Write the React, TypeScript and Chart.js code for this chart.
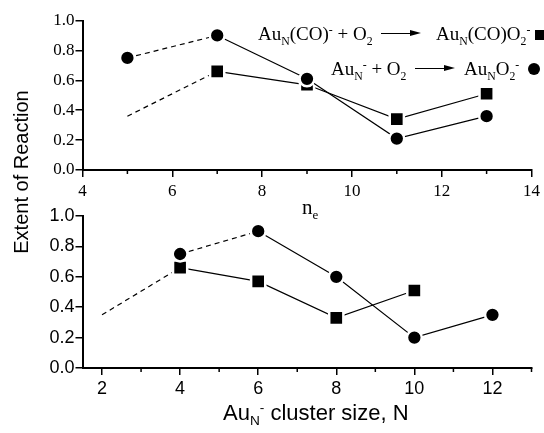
import React, { useEffect, useRef } from "react";
import { Chart, registerables } from "chart.js";

Chart.register(...registerables);

// ---- data (top panel: number of electrons n_e) ----
const topElectrons = [5, 7, 9, 11, 13];
const topAuN = [0.75, 0.90, 0.61, 0.21, 0.36];
const topAuNCO = [0.36, 0.66, 0.57, 0.34, 0.51];

// ---- data (bottom panel: cluster size N) ----
const sizesAuN = [4, 6, 8, 10, 12];
const bottomAuN = [0.75, 0.90, 0.60, 0.20, 0.35];
const sizesAuNCO = [2, 4, 6, 8, 10];
const bottomAuNCO = [0.35, 0.66, 0.57, 0.33, 0.51];

const yTicks = [0, 0.2, 0.4, 0.6, 0.8, 1.0];

const SERIF = "'Liberation Serif', 'Times New Roman', serif";
const SANS = "'Liberation Sans', Arial, sans-serif";

const toPoints = (xs: number[], ys: number[]) => xs.map((x, i) => ({ x, y: ys[i] }));

const minorTicks = {
  id: "minorTicks",
  afterDraw(chart: any) {
    const s = chart.scales.x;
    const ctx = chart.ctx;
    ctx.save();
    ctx.strokeStyle = "#000";
    ctx.lineWidth = 1.5;
    for (const t of s.ticks) {
      if (Math.abs(t.value % 2) === 1) {
        const px = s.getPixelForValue(t.value);
        ctx.beginPath();
        ctx.moveTo(px, s.top);
        ctx.lineTo(px, s.top + 4);
        ctx.stroke();
      }
    }
    ctx.restore();
  },
};

function makeConfig(opts: {
  circles: { x: number; y: number }[];
  squares: { x: number; y: number }[];
  xmin: number;
  xmax: number;
  font: string;
  fontSize: number;
  padTop: number;
  xHeight: number;
  xPad: number;
}) {
  const dashFirst = (ctx: any) => (ctx.p0DataIndex === 0 ? [5, 4] : undefined);
  return {
    type: "line" as const,
    data: {
      datasets: [
        {
          data: opts.circles,
          borderColor: "#000",
          backgroundColor: "#000",
          borderWidth: 1.2,
          pointStyle: "circle",
          pointRadius: 7.4,
          pointBorderWidth: 2.5,
          pointBorderColor: "#fff",
          segment: { borderDash: dashFirst },
        },
        {
          data: opts.squares,
          borderColor: "#000",
          backgroundColor: "#000",
          borderWidth: 1.2,
          pointStyle: "rect",
          pointRadius: (c: any) => (c.dataIndex === 0 ? 0 : 10),
          pointBorderWidth: 2.5,
          pointBorderColor: "#fff",
          segment: { borderDash: dashFirst },
        },
      ],
    },
    options: {
      animation: false,
      responsive: false,
      events: [],
      layout: { padding: { top: opts.padTop, right: 11, bottom: 0, left: 0 } },
      plugins: { legend: { display: false }, tooltip: { enabled: false } },
      scales: {
        x: {
          type: "linear",
          min: opts.xmin,
          max: opts.xmax,
          afterFit: (s: any) => {
            s.height = opts.xHeight;
          },
          border: { display: true, color: "#000", width: 2 },
          grid: {
            drawOnChartArea: false,
            drawTicks: true,
            tickLength: 7,
            lineWidth: 1.5,
            color: (c: any) =>
              c.tick && Math.abs(c.tick.value % 2) === 0 ? "#000" : "rgba(0,0,0,0)",
          },
          ticks: {
            stepSize: 1,
            includeBounds: false,
            autoSkip: false,
            maxRotation: 0,
            padding: opts.xPad,
            color: "#000",
            font: { family: opts.font, size: opts.fontSize },
            callback: (v: any) => (Math.abs(Number(v) % 2) === 0 ? String(v) : ""),
          },
        },
        y: {
          type: "linear",
          min: 0,
          max: 1,
          afterFit: (s: any) => {
            s.width = 82.5;
          },
          afterBuildTicks: (s: any) => {
            s.ticks = yTicks.map((v) => ({ value: v }));
          },
          border: { display: true, color: "#000", width: 2 },
          grid: {
            drawOnChartArea: false,
            drawTicks: true,
            tickLength: 7,
            lineWidth: 1.5,
            color: "#000",
          },
          ticks: {
            padding: 1,
            color: "#000",
            font: { family: opts.font, size: opts.fontSize },
            callback: (v: any) => Number(v).toFixed(1),
          },
        },
      },
    },
    plugins: [minorTicks],
  };
}

function Arrow({ x1, x2, y }: { x1: number; x2: number; y: number }) {
  return (
    <div style={{ position: "absolute", left: x1, top: y - 0.75, width: x2 - x1, height: 0 }}>
      <div style={{ position: "absolute", left: 0, top: 0, width: x2 - x1 - 8, height: 1.5, background: "#000" }} />
      <div
        style={{
          position: "absolute",
          left: x2 - x1 - 11,
          top: -2.5,
          width: 0,
          height: 0,
          borderTop: "3.25px solid transparent",
          borderBottom: "3.25px solid transparent",
          borderLeft: "11px solid #000",
        }}
      />
    </div>
  );
}

const sub = (t: string) => (
  <span style={{ fontSize: "0.62em", position: "relative", top: "0.4em" }}>{t}</span>
);
const sup = (t: string) => (
  <span style={{ fontSize: "0.62em", position: "relative", top: "-0.62em" }}>{t}</span>
);

export default function App() {
  const topRef = useRef<HTMLCanvasElement>(null);
  const botRef = useRef<HTMLCanvasElement>(null);

  useEffect(() => {
    const c1 = new Chart(
      topRef.current as HTMLCanvasElement,
      makeConfig({
        circles: toPoints(topElectrons, topAuN),
        squares: toPoints(topElectrons, topAuNCO),
        xmin: 4,
        xmax: 14,
        font: SERIF,
        fontSize: 17,
        padTop: 20.5,
        xHeight: 45,
        xPad: 4,
      }) as any
    );
    const c2 = new Chart(
      botRef.current as HTMLCanvasElement,
      makeConfig({
        circles: toPoints(sizesAuN, bottomAuN),
        squares: toPoints(sizesAuNCO, bottomAuNCO),
        xmin: 1.5,
        xmax: 13,
        font: SANS,
        fontSize: 18,
        padTop: 16,
        xHeight: 65,
        xPad: 3,
      }) as any
    );
    return () => {
      c1.destroy();
      c2.destroy();
    };
  }, []);

  const legendText: React.CSSProperties = {
    position: "absolute",
    fontFamily: SERIF,
    fontSize: 19,
    lineHeight: "19px",
    whiteSpace: "nowrap",
    color: "#000",
  };

  return (
    <div style={{ position: "absolute", left: 0, top: 0, width: 544, height: 433, background: "#fff", overflow: "hidden" }}>
      <canvas ref={topRef} width={544} height={215} style={{ position: "absolute", left: 0, top: 0, width: 544, height: 215 }} />
      <canvas ref={botRef} width={544} height={233} style={{ position: "absolute", left: 0, top: 200, width: 544, height: 233 }} />

      {/* shared y-axis title */}
      <div
        style={{
          position: "absolute",
          left: 21 - 110,
          top: 172 - 12,
          width: 220,
          height: 24,
          lineHeight: "24px",
          textAlign: "center",
          fontFamily: SANS,
          fontSize: 20,
          color: "#000",
          transform: "rotate(-90deg)",
          transformOrigin: "center",
          whiteSpace: "nowrap",
        }}
      >
        Extent of Reaction
      </div>

      {/* top x-axis title */}
      <div style={{ position: "absolute", left: 302, top: 197, fontFamily: SERIF, fontSize: 21, lineHeight: "21px", color: "#000" }}>
        n{sub("e")}
      </div>

      {/* bottom x-axis title */}
      <div style={{ position: "absolute", left: 223, top: 402, fontFamily: SANS, fontSize: 22, lineHeight: "22px", color: "#000", whiteSpace: "nowrap" }}>
        Au{sub("N")}{sup("-")} cluster size, N
      </div>

      {/* legend line 1 */}
      <div style={{ ...legendText, left: 258, top: 24 }}>
        Au{sub("N")}(CO){sup("-")} + O{sub("2")}
      </div>
      <Arrow x1={381} x2={421} y={33.5} />
      <div style={{ ...legendText, left: 436, top: 24 }}>
        Au{sub("N")}(CO)O{sub("2")}{sup("-")}
      </div>
      <div style={{ position: "absolute", left: 535, top: 30, width: 10, height: 10, background: "#000" }} />

      {/* legend line 2 */}
      <div style={{ ...legendText, left: 331, top: 59 }}>
        Au{sub("N")}{sup("-")} + O{sub("2")}
      </div>
      <Arrow x1={415} x2={455} y={68.5} />
      <div style={{ ...legendText, left: 464, top: 59 }}>
        Au{sub("N")}O{sub("2")}{sup("-")}
      </div>
      <div style={{ position: "absolute", left: 528, top: 62.5, width: 12, height: 12, borderRadius: 6, background: "#000" }} />
    </div>
  );
}
